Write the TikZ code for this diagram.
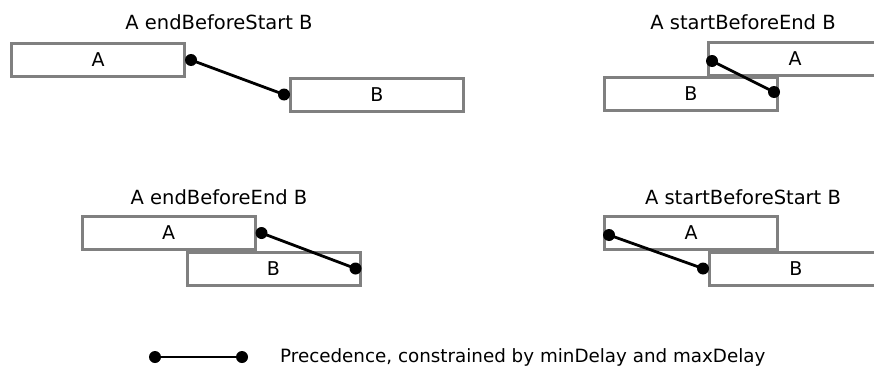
\documentclass[tikz,border=0pt]{standalone}
\usepackage{fontspec}
\setmainfont{DejaVu Sans}
\definecolor{boxgray}{RGB}{128,128,128}
\tikzset{
  taskbox/.style={draw=boxgray, line width=3pt, fill=white, minimum width=173pt, minimum height=33pt, inner sep=0pt, font=\fontsize{19pt}{22pt}\selectfont},
  title/.style={font=\fontsize{19.5pt}{22pt}\selectfont, inner sep=0pt},
  legendtext/.style={font=\fontsize{18.3pt}{22pt}\selectfont, inner sep=0pt},
  prec/.style={line width=2.8pt, black},
  pdot/.style={circle, fill=black, minimum size=12pt, inner sep=0pt}
}
\begin{document}
\begin{tikzpicture}[x=1pt,y=-1pt]
\useasboundingbox (0,0) rectangle (874,369);
\clip (0,0) rectangle (874,369);
% top-left
\node[title] (t1) at (219,22) {A endBeforeStart B};
\node[taskbox] (a1) at (98,60) {A};
\node[taskbox] (b1) at (377,94.5) {B};
\node[pdot] (a1d) at ([xshift=5pt]a1.east) {};
\node[pdot] (b1d) at ([xshift=-5pt]b1.west) {};
\draw[prec] (a1d.center) -- (b1d.center);
% top-right
\node[title] (t2) at (743,22) {A startBeforeEnd B};
\node[taskbox] (a2) at (795,59) {A};
\node[taskbox] (b2) at (691,93.5) {B};
\node[pdot] (a2d) at ([xshift=5pt,yshift=-2pt]a2.west) {};
\node[pdot] (b2d) at ([xshift=-5pt,yshift=1.5pt]b2.east) {};
\draw[prec] (a2d.center) -- (b2d.center);
% bottom-left
\node[title] (t3) at (219,197) {A endBeforeEnd B};
\node[taskbox] (a3) at (168.5,233) {A};
\node[taskbox] (b3) at (273.5,268.5) {B};
\node[pdot] (a3d) at ([xshift=5pt]a3.east) {};
\node[pdot] (b3d) at ([xshift=-6pt]b3.east) {};
\draw[prec] (a3d.center) -- (b3d.center);
% bottom-right
\node[title] (t4) at (743,197) {A startBeforeStart B};
\node[taskbox] (a4) at (691,233) {A};
\node[taskbox] (b4) at (796,268.5) {B};
\node[pdot] (a4d) at ([xshift=6pt,yshift=-2pt]a4.west) {};
\node[pdot] (b4d) at ([xshift=-5pt]b4.west) {};
\draw[prec] (a4d.center) -- (b4d.center);
% legend
\node[pdot] (l1) at (155,357) {};
\node[pdot] (l2) at (242,357) {};
\draw[prec] (l1.center) -- (l2.center);
\node[legendtext, anchor=west] (lt) at (280,357) {Precedence, constrained by minDelay and maxDelay};
\end{tikzpicture}
\end{document}
